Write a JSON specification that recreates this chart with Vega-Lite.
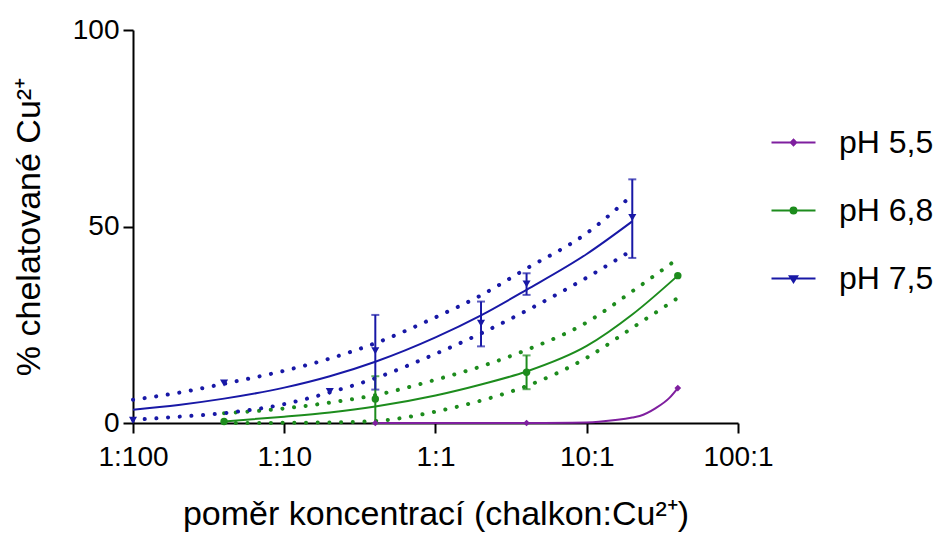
{
  "$schema": "https://vega.github.io/schema/vega-lite/v6.json",
  "width": 605,
  "height": 393,
  "autosize": {"type": "none"},
  "padding": {"left": 133, "top": 30, "right": 203, "bottom": 111},
  "background": "white",
  "config": {
    "view": {"stroke": null},
    "font": "Liberation Sans",
    "axis": {"grid": false, "domainColor": "black", "domainWidth": 2, "tickColor": "black", "tickWidth": 2, "tickSize": 10, "labelColor": "black", "labelFont": "Liberation Sans", "labelFontSize": 28, "titleFont": "Liberation Sans", "titleFontSize": 34, "titleFontWeight": "normal", "titleColor": "black"}
  },
  "resolve": {"legend": {"color": "independent"}},
  "datasets": {
    "pts": [
      {"series": "pH 5,5", "x": 0.4, "y": 0},
      {"series": "pH 5,5", "x": 4, "y": 0},
      {"series": "pH 5,5", "x": 40, "y": 8.9},
      {"series": "pH 6,8", "x": 0.04, "y": 0.4},
      {"series": "pH 6,8", "x": 0.4, "y": 6.1, "lo": 0, "hi": 11.9},
      {"series": "pH 6,8", "x": 4, "y": 12.9, "lo": 8.6, "hi": 17.2},
      {"series": "pH 6,8", "x": 40, "y": 37.5},
      {"series": "pH 7,5", "x": 0.01, "y": 0.7},
      {"series": "pH 7,5", "x": 0.04, "y": 10.2},
      {"series": "pH 7,5", "x": 0.2, "y": 8.0},
      {"series": "pH 7,5", "x": 0.4, "y": 18.4, "lo": 8.5, "hi": 27.5},
      {"series": "pH 7,5", "x": 2, "y": 25.4, "lo": 19.5, "hi": 30.9},
      {"series": "pH 7,5", "x": 4, "y": 35.4, "lo": 32.6, "hi": 38.1},
      {"series": "pH 7,5", "x": 20, "y": 52.3, "lo": 42.0, "hi": 62.0}
    ],
    "fit": [
      {"series": "pH 5,5", "x": 0.4, "y": 0},
      {"series": "pH 5,5", "x": 1, "y": 0},
      {"series": "pH 5,5", "x": 4, "y": 0},
      {"series": "pH 5,5", "x": 8, "y": 0.05},
      {"series": "pH 5,5", "x": 12, "y": 0.3},
      {"series": "pH 5,5", "x": 16, "y": 0.8},
      {"series": "pH 5,5", "x": 20, "y": 1.4},
      {"series": "pH 5,5", "x": 22.4, "y": 1.8},
      {"series": "pH 5,5", "x": 28.6, "y": 3.8},
      {"series": "pH 5,5", "x": 35.2, "y": 6.4},
      {"series": "pH 5,5", "x": 40, "y": 8.9},
      {"series": "pH 6,8", "x": 0.04, "y": 0.4},
      {"series": "pH 6,8", "x": 0.1, "y": 1.6},
      {"series": "pH 6,8", "x": 0.2, "y": 2.7},
      {"series": "pH 6,8", "x": 0.4, "y": 4.2},
      {"series": "pH 6,8", "x": 1, "y": 7.0},
      {"series": "pH 6,8", "x": 2, "y": 9.8},
      {"series": "pH 6,8", "x": 4, "y": 13.1},
      {"series": "pH 6,8", "x": 10, "y": 19.6},
      {"series": "pH 6,8", "x": 20, "y": 27.6},
      {"series": "pH 6,8", "x": 40, "y": 37.5},
      {"series": "pH 7,5", "x": 0.01, "y": 3.4},
      {"series": "pH 7,5", "x": 0.02, "y": 4.6},
      {"series": "pH 7,5", "x": 0.04, "y": 6.2},
      {"series": "pH 7,5", "x": 0.1, "y": 9.0},
      {"series": "pH 7,5", "x": 0.2, "y": 11.9},
      {"series": "pH 7,5", "x": 0.4, "y": 15.6},
      {"series": "pH 7,5", "x": 1, "y": 21.8},
      {"series": "pH 7,5", "x": 2, "y": 27.4},
      {"series": "pH 7,5", "x": 4, "y": 33.9},
      {"series": "pH 7,5", "x": 10, "y": 43.0},
      {"series": "pH 7,5", "x": 20, "y": 51.3}
    ],
    "band": [
      {"series": "pH 6,8", "band": "upper", "x": 0.04, "y": 2.5},
      {"series": "pH 6,8", "band": "upper", "x": 0.1, "y": 3.7},
      {"series": "pH 6,8", "band": "upper", "x": 0.2, "y": 5.2},
      {"series": "pH 6,8", "band": "upper", "x": 0.4, "y": 7.1},
      {"series": "pH 6,8", "band": "upper", "x": 1, "y": 11.0},
      {"series": "pH 6,8", "band": "upper", "x": 2, "y": 14.4},
      {"series": "pH 6,8", "band": "upper", "x": 4, "y": 18.6},
      {"series": "pH 6,8", "band": "upper", "x": 10, "y": 25.6},
      {"series": "pH 6,8", "band": "upper", "x": 20, "y": 33.5},
      {"series": "pH 6,8", "band": "upper", "x": 40, "y": 41.8},
      {"series": "pH 6,8", "band": "lower", "x": 0.04, "y": 0},
      {"series": "pH 6,8", "band": "lower", "x": 0.1, "y": 0.05},
      {"series": "pH 6,8", "band": "lower", "x": 0.2, "y": 0.15},
      {"series": "pH 6,8", "band": "lower", "x": 0.4, "y": 0.5},
      {"series": "pH 6,8", "band": "lower", "x": 1, "y": 2.9},
      {"series": "pH 6,8", "band": "lower", "x": 2, "y": 5.7},
      {"series": "pH 6,8", "band": "lower", "x": 4, "y": 9.4},
      {"series": "pH 6,8", "band": "lower", "x": 10, "y": 16.6},
      {"series": "pH 6,8", "band": "lower", "x": 20, "y": 24.2},
      {"series": "pH 6,8", "band": "lower", "x": 40, "y": 31.8},
      {"series": "pH 7,5", "band": "upper", "x": 0.01, "y": 5.9},
      {"series": "pH 7,5", "band": "upper", "x": 0.02, "y": 7.7},
      {"series": "pH 7,5", "band": "upper", "x": 0.04, "y": 10.0},
      {"series": "pH 7,5", "band": "upper", "x": 0.1, "y": 13.3},
      {"series": "pH 7,5", "band": "upper", "x": 0.2, "y": 16.4},
      {"series": "pH 7,5", "band": "upper", "x": 0.4, "y": 20.3},
      {"series": "pH 7,5", "band": "upper", "x": 1, "y": 26.9},
      {"series": "pH 7,5", "band": "upper", "x": 2, "y": 32.5},
      {"series": "pH 7,5", "band": "upper", "x": 4, "y": 39.3},
      {"series": "pH 7,5", "band": "upper", "x": 10, "y": 48.3},
      {"series": "pH 7,5", "band": "upper", "x": 20, "y": 58},
      {"series": "pH 7,5", "band": "lower", "x": 0.01, "y": 0.8},
      {"series": "pH 7,5", "band": "lower", "x": 0.02, "y": 1.6},
      {"series": "pH 7,5", "band": "lower", "x": 0.04, "y": 2.5},
      {"series": "pH 7,5", "band": "lower", "x": 0.1, "y": 4.8},
      {"series": "pH 7,5", "band": "lower", "x": 0.2, "y": 7.8},
      {"series": "pH 7,5", "band": "lower", "x": 0.4, "y": 11.4},
      {"series": "pH 7,5", "band": "lower", "x": 1, "y": 17.6},
      {"series": "pH 7,5", "band": "lower", "x": 2, "y": 22.8},
      {"series": "pH 7,5", "band": "lower", "x": 4, "y": 28.6},
      {"series": "pH 7,5", "band": "lower", "x": 10, "y": 37.0},
      {"series": "pH 7,5", "band": "lower", "x": 20, "y": 44}
    ]
  },
  "encoding": {
    "x": {
      "field": "x", "type": "quantitative",
      "scale": {"type": "log", "domain": [0.01, 100], "nice": false, "zero": false},
      "axis": {
        "title": "poměr koncentrací (chalkon:Cu²⁺)",
        "values": [0.01, 0.1, 1, 10, 100],
        "labelExpr": "datum.value < 0.05 ? '1:100' : datum.value < 0.5 ? '1:10' : datum.value < 5 ? '1:1' : datum.value < 50 ? '10:1' : '100:1'",
        "labelPadding": 10,
        "titlePadding": 26,
        "labelFlush": false,
        "labelOverlap": false
      }
    }
  },
  "layer": [
    {
      "data": {"name": "band"},
      "mark": {"type": "line", "strokeDash": [0.1, 11.6], "strokeCap": "round", "strokeWidth": 4, "interpolate": "monotone"},
      "encoding": {
        "y": {"field": "y", "type": "quantitative", "scale": {"domain": [0, 100], "nice": false},
          "axis": {"title": "% chelatované Cu²⁺", "values": [0, 50, 100], "labelPadding": 4, "titlePadding": 26}},
        "detail": {"field": "band"},
        "color": {"field": "series", "type": "nominal", "scale": {"domain": ["pH 5,5", "pH 6,8", "pH 7,5"], "range": ["#7f1f9f", "#1d8c1d", "#1818a6"]}, "legend": null}
      }
    },
    {
      "data": {"name": "fit"},
      "mark": {"type": "line", "strokeWidth": 2, "interpolate": "monotone"},
      "encoding": {
        "y": {"field": "y", "type": "quantitative", "title": "% chelatované Cu²⁺"},
        "color": {
          "field": "series", "type": "nominal",
          "legend": {
            "title": null,
            "orient": "none",
            "legendX": 637,
            "legendY": 89,
            "padding": 0,
            "symbolType": {"expr": "datum.value === 'pH 5,5' ? 'M-1,0H1M0,-0.12L0.12,0L0,0.12L-0.12,0ZM0,-0.05L0.05,0L0,0.05L-0.05,0Z' : datum.value === 'pH 6,8' ? 'M-1,0H1M-0.13,0A0.13,0.13 0 1,0 0.13,0A0.13,0.13 0 1,0 -0.13,0ZM-0.05,0A0.05,0.05 0 1,0 0.05,0A0.05,0.05 0 1,0 -0.05,0Z' : 'M-1,0H1M-0.16,-0.1L0.16,-0.1L0,0.16ZM-0.07,-0.06L0.07,-0.06L0,0.07Z'"},
            "symbolSize": 1936,
            "symbolStrokeWidth": 2.2,
            "symbolFillColor": "transparent",
            "labelFont": "Liberation Sans",
            "labelFontSize": 32,
            "labelColor": "black",
            "labelOffset": 22,
            "rowPadding": 28
          }
        }
      }
    },
    {
      "data": {"name": "pts"},
      "transform": [{"filter": "isValid(datum.lo)"}],
      "mark": {"type": "errorbar", "ticks": true, "size": 8, "thickness": 2},
      "encoding": {
        "y": {"field": "lo", "type": "quantitative", "title": "% chelatované Cu²⁺"},
        "y2": {"field": "hi"},
        "color": {"field": "series", "type": "nominal", "legend": null}
      }
    },
    {
      "data": {"name": "pts"},
      "mark": {"type": "point", "filled": true, "opacity": 1},
      "encoding": {
        "y": {"field": "y", "type": "quantitative", "title": "% chelatované Cu²⁺"},
        "shape": {"field": "series", "type": "nominal", "scale": {"domain": ["pH 5,5", "pH 6,8", "pH 7,5"], "range": ["diamond", "circle", "triangle-down"]}, "legend": null},
        "size": {"field": "series", "type": "nominal", "scale": {"domain": ["pH 5,5", "pH 6,8", "pH 7,5"], "range": [45, 65, 85]}, "legend": null},
        "color": {"field": "series", "type": "nominal", "legend": null}
      }
    }
  ]
}
